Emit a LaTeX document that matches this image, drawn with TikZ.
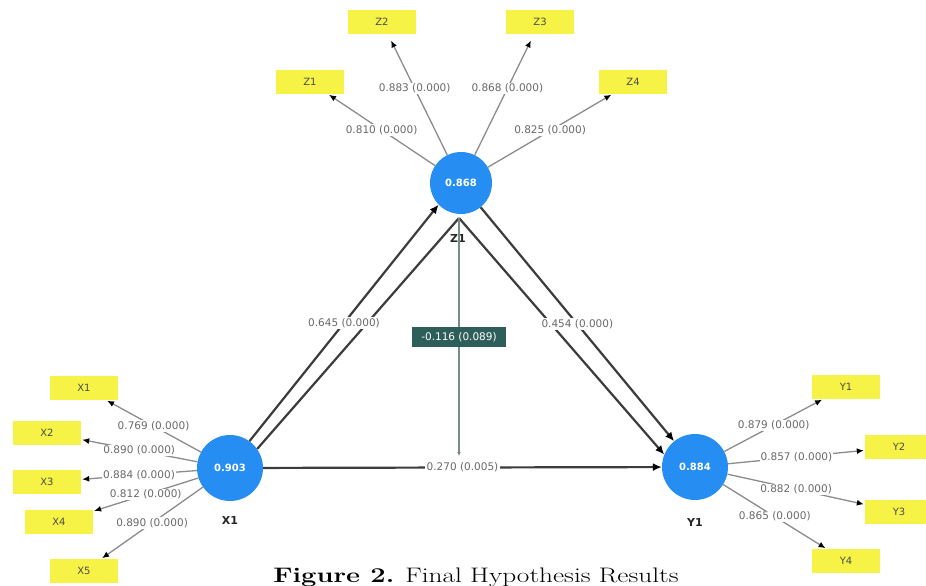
\documentclass[tikz,border=0pt]{standalone}
\usepackage{fontspec}
\newfontfamily\dv{DejaVu Sans}
\usetikzlibrary{arrows.meta}
\definecolor{lvblue}{RGB}{38,142,242}
\definecolor{indyellow}{RGB}{247,243,70}
\definecolor{modteal}{RGB}{46,94,90}
\definecolor{modline}{RGB}{120,140,138}
\definecolor{pathgray}{RGB}{60,60,60}
\definecolor{indgray}{RGB}{140,140,140}
\definecolor{lblgray}{RGB}{105,105,105}
\begin{document}
\begin{tikzpicture}[x=1pt,y=-1pt,
  latent/.style={circle,fill=lvblue,minimum size=66pt,inner sep=0pt,text=white,font=\dv\bfseries\fontsize{10}{12}\selectfont},
  indbox/.style={rectangle,fill=indyellow,minimum width=68pt,minimum height=24pt,inner sep=0pt,text=black!70,font=\dv\fontsize{10}{12}\selectfont},
  lvname/.style={font=\dv\bfseries\fontsize{11}{13}\selectfont,text=black!85},
  indline/.style={draw=indgray,line width=1.3pt,shorten >=1pt,-{Latex[length=7pt,width=6pt,color=black]}},
  loadlbl/.style={fill=white,inner sep=1pt,text=lblgray,font=\dv\fontsize{10.5}{12}\selectfont},
  pathline/.style={draw=pathgray,line width=2.2pt},
  patharrow/.style={pathline,-{Latex[length=9pt,width=8pt,color=black]}},
  pathlbl/.style={fill=white,inner sep=1.5pt,text=lblgray,font=\dv\fontsize{10.5}{12}\selectfont},
  modpath/.style={draw=modline,line width=1.3pt,-{Latex[length=4pt,width=4pt]}},
  modlbl/.style={fill=modteal,text=white,inner sep=2pt,minimum width=94pt,minimum height=20pt,font=\dv\fontsize{10.5}{12}\selectfont}
]
\useasboundingbox[fill=white] (0,0) rectangle (926,586);

% latent variables
\node[latent] (lvX) at (230,468) {0.903};
\node[latent,minimum size=62pt] (lvZ) at (461,183) {0.868};
\node[latent] (lvY) at (695,467) {0.884};
\node[lvname] (nX) at (230,520) {X1};
\node[lvname] (nZ) at (458,238) {Z1};
\node[lvname] (nY) at (695,522) {Y1};
\coordinate (me) at (459,218);
\coordinate (mt) at (459,456);

% indicator boxes
\node[indbox] (x1) at (84,388) {X1};
\node[indbox] (x2) at (47,433) {X2};
\node[indbox] (x3) at (47,482) {X3};
\node[indbox] (x4) at (59,522) {X4};
\node[indbox] (x5) at (84,571) {X5};
\node[indbox] (z1) at (310,82) {Z1};
\node[indbox] (z2) at (382,22) {Z2};
\node[indbox] (z3) at (540,22) {Z3};
\node[indbox] (z4) at (633,82) {Z4};
\node[indbox] (y1) at (846,387) {Y1};
\node[indbox] (y2) at (899,447) {Y2};
\node[indbox] (y3) at (899,512) {Y3};
\node[indbox] (y4) at (846,561) {Y4};

% outer loadings
\draw[indline] (lvX) -- node[loadlbl]{0.769 (0.000)} (x1);
\draw[indline] (lvX) -- node[loadlbl]{0.890 (0.000)} (x2);
\draw[indline] (lvX) -- node[loadlbl]{0.884 (0.000)} (x3);
\draw[indline] (lvX) -- node[loadlbl]{0.812 (0.000)} (x4);
\draw[indline] (lvX) -- node[loadlbl]{0.890 (0.000)} (x5);
\draw[indline] (lvZ) -- node[loadlbl]{0.810 (0.000)} (z1);
\draw[indline,shorten >=7pt] (lvZ) -- node[loadlbl,pos=0.55]{0.883 (0.000)} (z2);
\draw[indline,shorten >=7pt] (lvZ) -- node[loadlbl,pos=0.55]{0.868 (0.000)} (z3);
\draw[indline] (lvZ) -- node[loadlbl]{0.825 (0.000)} (z4);
\draw[indline] (lvY) -- node[loadlbl]{0.879 (0.000)} (y1);
\draw[indline] (lvY) -- node[loadlbl]{0.857 (0.000)} (y2);
\draw[indline] (lvY) -- node[loadlbl]{0.882 (0.000)} (y3);
\draw[indline] (lvY) -- node[loadlbl]{0.865 (0.000)} (y4);

% structural paths
\draw[pathline] (lvX.35) -- (me);
\draw[patharrow] (me) -- (lvY.158);
\draw[patharrow] (lvX.54) -- node[pathlbl]{0.645 (0.000)} (lvZ.224);
\draw[patharrow] (lvZ.309) -- node[pathlbl]{0.454 (0.000)} (lvY.129);
\draw[patharrow] (lvX) -- node[pathlbl]{0.270 (0.005)} (lvY);
\draw[modpath] (me) -- node[modlbl]{-0.116 (0.089)} (mt);

% caption
\node[anchor=base,inner sep=0pt] (cap) at (476,582) {\scalebox{1.3}[1]{\fontsize{21}{25}\selectfont\textbf{Figure 2.} Final Hypothesis Results}};
\end{tikzpicture}
\end{document}
